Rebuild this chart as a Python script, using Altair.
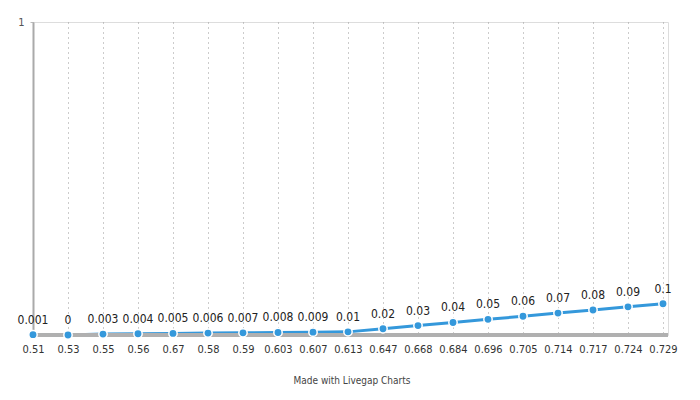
import altair as alt
import pandas as pd

categories = ["0.51", "0.53", "0.55", "0.56", "0.67", "0.58", "0.59", "0.603", "0.607", "0.613",
              "0.647", "0.668", "0.684", "0.696", "0.705", "0.714", "0.717", "0.724", "0.729"]
values = [0.001, 0, 0.003, 0.004, 0.005, 0.006, 0.007, 0.008, 0.009, 0.01,
          0.02, 0.03, 0.04, 0.05, 0.06, 0.07, 0.08, 0.09, 0.1]
labels = ["0.001", "0", "0.003", "0.004", "0.005", "0.006", "0.007", "0.008", "0.009", "0.01",
          "0.02", "0.03", "0.04", "0.05", "0.06", "0.07", "0.08", "0.09", "0.1"]

df = pd.DataFrame({"cat": categories, "val": values, "lab": labels})

FONT = "DejaVu Sans Condensed, Roboto, sans-serif"
W, H = 635, 313

x = alt.X("cat:N", sort=categories, title=None,
          scale=alt.Scale(type="point", padding=0, range=[0, 630]),
          axis=alt.Axis(grid=True, gridDash=[1, 4], gridColor="#999", gridWidth=1,
                        domain=False, ticks=False, labelAngle=0, labelPadding=8,
                        labelFont=FONT, labelFontSize=11, labelColor="#333"))
y = alt.Y("val:Q", title=None, scale=alt.Scale(domain=[0, 1], nice=False),
          axis=alt.Axis(values=[1], grid=False, domain=True, domainColor="#aaa", domainWidth=2,
                        ticks=True, tickSize=3, tickColor="#bbb", labelFont=FONT,
                        labelFontSize=11, labelColor="#555", labelPadding=6))

base = alt.Chart(df)

baseline = base.mark_rule(color="#b0b0b0", strokeWidth=3).encode(
    x=alt.value(0), x2=alt.value(W), y=alt.value(H))

line = base.mark_line(color="#3498db", strokeWidth=3).encode(x=x, y=y)

pts = base.mark_point(filled=True, color="#3498db", size=70, opacity=1,
                      stroke="white", strokeWidth=1.5).encode(x=x, y=y)

txt = base.mark_text(dy=-15, font=FONT, fontSize=12, color="#222").encode(
    x=x, y=y, text="lab:N")

footer = alt.Chart(pd.DataFrame({"t": ["Made with Livegap Charts"]})).mark_text(
    font=FONT, fontSize=10, color="#444").encode(
    x=alt.value(319), y=alt.value(359), text="t:N")

chart = alt.layer(line, baseline, pts, txt, footer).properties(
    width=W, height=H,
    padding={"left": 33, "top": 22, "right": 32, "bottom": 65},
    autosize=alt.AutoSizeParams(type="none"),
).configure_view(stroke=None).configure(background="white")

chart.save("out.html", embed_options={"renderer": "svg", "actions": False})
